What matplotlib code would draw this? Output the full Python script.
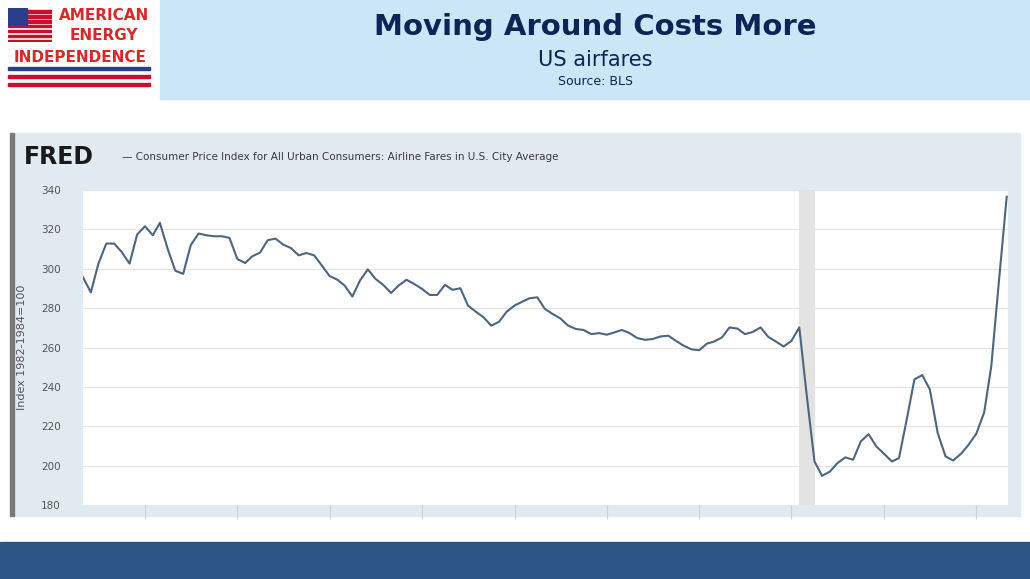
import numpy as np
import pandas as pd
import matplotlib
matplotlib.use("Agg")
import matplotlib.pyplot as plt
import matplotlib.dates as mdates
from matplotlib.patches import Rectangle

# monthly CPI airline fares, May 2012 .. Apr 2022
values = [295.7, 288, 302.6, 312.8, 312.8, 308.5, 302.6, 317.4, 321.6, 317, 323.3, 310,
          299, 297.4, 312, 317.9, 317, 316.5, 316.5, 315.7, 305, 302.9, 306.3, 308.2,
          314.5, 315.3, 312.3, 310.5, 306.8, 308, 306.8, 301.7, 296.3, 294.4, 291.5, 285.9,
          294, 299.7, 294.9, 291.8, 287.7, 291.5, 294.4, 292.3, 289.8, 286.7, 286.7, 291.8,
          289.3, 290.1, 281.3, 278.2, 275.3, 271.1, 273.1, 278.2, 281.3, 283.3, 285, 285.5,
          279.6, 277, 274.8, 271.1, 269.4, 268.9, 266.8, 267.3, 266.5, 267.7, 268.9, 267.3,
          264.8, 263.9, 264.3, 265.6, 266, 263.4, 260.9, 259.1, 258.6, 262, 263, 265.1,
          270.2, 269.6, 266.8, 267.9, 270.2, 265.4, 263, 260.5, 263.4, 270.2, 236,
          202.1, 194.8, 197, 201.3, 204.2, 203, 212.3, 216, 209.8, 206, 202.1, 203.8,
          223.7, 243.8, 246, 238.7, 216.6, 204.7, 202.6, 206, 210.6, 216.3, 227.1, 250.6,
          294.9, 336.6]
dates = pd.date_range("2012-05-01", periods=len(values), freq="MS")
recession = ("2020-02-01", "2020-04-01")
yticks = [180, 200, 220, 240, 260, 280, 300, 320, 340]

W, H = 1030, 579
fig = plt.figure(figsize=(W / 100, H / 100), dpi=100)
fig.patch.set_facecolor("white")

def px(x0, y0, x1, y1):
    return [x0 / W, 1 - y1 / H, (x1 - x0) / W, (y1 - y0) / H]

def rect(x0, y0, w, h, c):
    fig.add_artist(Rectangle((x0 / W, 1 - (y0 + h) / H), w / W, h / H,
                             transform=fig.transFigure, color=c, zorder=-5))

# header banner
rect(160, 0, 870, 99, "#cde6f7")
fig.text(595 / W, 1 - 27 / H, "Moving Around Costs More", ha="center", va="center",
         fontsize=21, fontweight="bold", color="#0e2356")
fig.text(595 / W, 1 - 60 / H, "US airfares", ha="center", va="center",
         fontsize=15, color="#0e2356")
fig.text(595 / W, 1 - 81 / H, "Source: BLS", ha="center", va="center",
         fontsize=9, color="#0e2356")

# logo
flag = fig.add_axes(px(8, 8, 52, 42))
flag.set_xlim(0, 13)
flag.set_ylim(0, 7)
flag.axis("off")
for i in range(7):
    flag.add_patch(Rectangle((0, i), 13, 0.5, color="#c8102e"))
flag.add_patch(Rectangle((0, 3.5), 5.5, 3.5, color="#2a3f8c"))
fig.text(104 / W, 1 - 16 / H, "AMERICAN", ha="center", va="center", fontsize=11,
         fontweight="bold", color="#d42a2a")
fig.text(104 / W, 1 - 36 / H, "ENERGY", ha="center", va="center", fontsize=11,
         fontweight="bold", color="#d42a2a")
fig.text(80 / W, 1 - 57 / H, "INDEPENDENCE", ha="center", va="center", fontsize=11,
         fontweight="bold", color="#d42a2a")
rect(8, 67, 142, 3, "#2a3f8c")
rect(8, 75, 142, 3, "#c8102e")
rect(8, 83, 142, 3, "#c8102e")

# footer bar
rect(0, 542, 1030, 37, "#2c5585")

# FRED panel
rect(14, 133, 1006, 383, "#e1e9f1")
rect(10, 133, 4, 383, "#7a7a7a")
fig.text(24 / W, 1 - 157 / H, "FRED", ha="left", va="center", fontsize=17,
         fontweight="bold", color="#1a1a1a")
fig.text(122 / W, 1 - 157 / H, "\u2014 Consumer Price Index for All Urban Consumers: Airline Fares in U.S. City Average",
         ha="left", va="center", fontsize=7.5, color="#3a3a3a")

ax = fig.add_axes(px(83, 190, 1008, 505))
ax.set_facecolor("white")
ax.axvspan(pd.Timestamp(recession[0]), pd.Timestamp(recession[1]), color="#e3e3e3", lw=0)
ax.plot(dates, values, color="#4d6580", lw=1.5)
ax.set_ylim(180, 340)
ax.set_xlim(dates[0], dates[-1] + pd.Timedelta(days=5))
ax.set_yticks(yticks)
ax.grid(axis="y", color="#e6e6e6", lw=0.8)
ax.set_axisbelow(True)
ax.tick_params(axis="y", length=0, labelsize=7.5, labelcolor="#555555", pad=16)
ax.xaxis.set_major_locator(mdates.YearLocator())
ax.tick_params(axis="x", length=10, direction="out", color="#c8d2dc", labelbottom=False)
for s in ax.spines.values():
    s.set_visible(False)
ax.set_ylabel("Index 1982-1984=100", fontsize=8, color="#555555", labelpad=10)

fig.savefig("out.png", dpi=100)
